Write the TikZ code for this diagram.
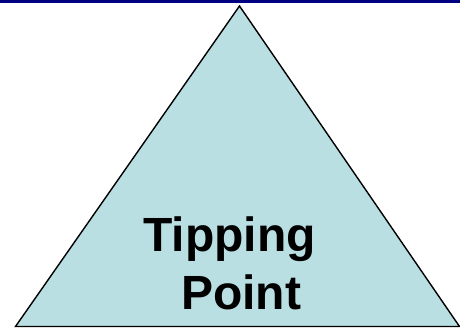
\documentclass[tikz,border=0pt]{standalone}
\usepackage{xcolor}
\usepackage{fontspec}
\setmainfont{Liberation Sans}
\usepackage{tikz}
\usetikzlibrary{positioning,calc}
\definecolor{Navy}{HTML}{000080}
\definecolor{SoftTeal}{HTML}{B9DFE3}

\begin{document}
\begin{tikzpicture}[x=1pt,y=1pt,
    tri/.style={draw=black,line width=1.4pt,fill=SoftTeal,line join=miter},
    label/.style={align=center,font=\bfseries\fontsize{48}{58}\selectfont,inner sep=0pt}
]
\useasboundingbox (0,0) rectangle (460,328);
\fill[Navy] (0,325) rectangle (460,328);
\coordinate (apex) at (239.5,322);
\coordinate (left) at (15.5,1.5);
\coordinate (right) at (459.5,1.5);
\draw[tri] (left) -- (apex) -- (right) -- cycle;
\node[label,anchor=base] (tp) at (229.5,18) {Tipping\\\hspace*{23pt}Point};
\end{tikzpicture}
\end{document}
